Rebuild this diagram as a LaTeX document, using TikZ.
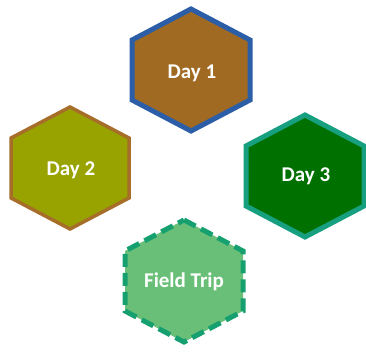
\documentclass[tikz,border=0pt]{standalone}
\usepackage{fontspec}
\setmainfont{Carlito}
\definecolor{fillA}{RGB}{160,106,34}
\definecolor{lineA}{RGB}{44,94,168}
\definecolor{fillB}{RGB}{152,163,0}
\definecolor{lineB}{RGB}{166,110,40}
\definecolor{fillC}{RGB}{0,112,0}
\definecolor{lineC}{RGB}{22,160,128}
\definecolor{fillD}{RGB}{106,191,120}
\definecolor{lineD}{RGB}{22,160,112}
\tikzset{
  lbl/.style={text=white,font=\bfseries\fontsize{21}{25}\selectfont,inner sep=0pt,anchor=base},
  hexline/.style={line join=miter}
}
\newcommand{\hexshape}[2]{%
  \draw[hexline,#2] ($(#1)+(0,-61)$) -- ($(#1)+(59,-30)$) -- ($(#1)+(59,30)$) -- ($(#1)+(0,61)$) -- ($(#1)+(-59,30)$) -- ($(#1)+(-59,-30)$) -- cycle;}
\usetikzlibrary{calc}
\begin{document}
\begin{tikzpicture}[x=1pt,y=-1pt]
\useasboundingbox (0,0) rectangle (366,352);
\coordinate (c1) at (191,70);
\coordinate (c2) at (70,168);
\coordinate (c3) at (305,176);
\coordinate (c4) at (184,281);
\hexshape{c1}{fill=fillA,draw=lineA,line width=5pt}
\hexshape{c2}{fill=fillB,draw=lineB,line width=3.5pt}
\hexshape{c3}{fill=fillC,draw=lineC,line width=5pt}
\hexshape{c4}{fill=fillD,draw=lineD,line width=5pt,dash pattern=on 13pt off 6pt}
\node[lbl] (d1) at ($(c1)+(1,9)$) {Day 1};
\node[lbl] (d2) at ($(c2)+(1,8)$) {Day 2};
\node[lbl] (d3) at ($(c3)+(1,6)$) {Day 3};
\node[lbl] (ft) at ($(c4)+(0,6)$) {Field Trip};
\end{tikzpicture}
\end{document}
